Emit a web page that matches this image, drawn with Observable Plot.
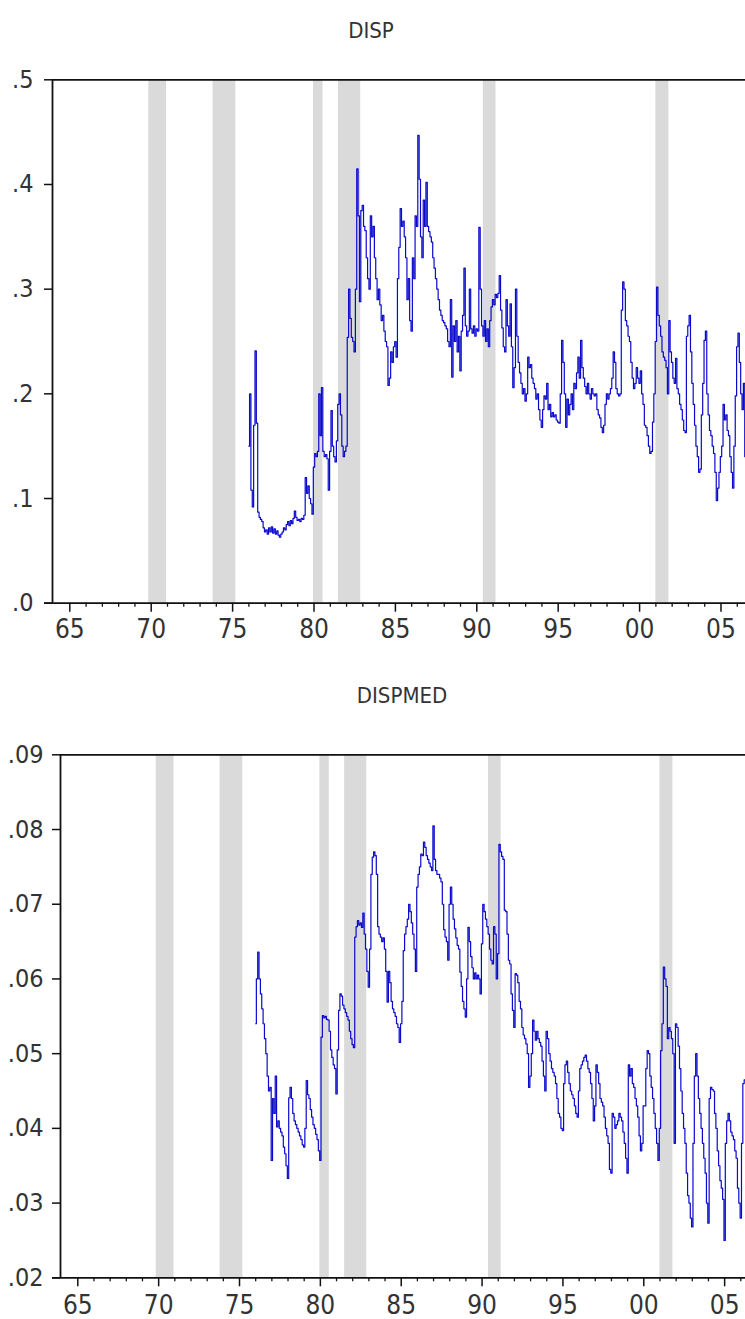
<!DOCTYPE html>
<html>
<head>
<meta charset="utf-8">
<script src="https://cdn.jsdelivr.net/npm/d3@7"></script>
<script src="https://cdn.jsdelivr.net/npm/@observablehq/plot@0.6"></script>
<style>
  body { margin: 0; background: #fff; }
  .panel { position: relative; width: 745px; overflow: hidden; }
  .panel svg { display: block; }
  .title { position: absolute; font-family: "Liberation Sans Narrow", "DejaVu Sans Condensed", "Liberation Sans", sans-serif; font-size: 22px; color: #333; transform: translate(-50%, -50%); white-space: nowrap; }
</style>
</head>
<body>
<div id="top" class="panel"></div>
<div id="bottom" class="panel"></div>
<script>
// ---------------- DATA ----------------
const startYear = 1976; // first monthly observation: 1976M1
const panelTitles = ["DISP", "DISPMED"];

// DISP, monthly from 1976M1
const dispValues = [
  .150,.200,.108,.092,.170,.241,.172,.087,.082,.080,
  .078,.072,.068,.070,.066,.072,.068,.073,.067,.071,
  .066,.069,.065,.063,.066,.068,.072,.070,.075,.078,
  .074,.079,.076,.081,.088,.082,.079,.080,.078,.081,
  .080,.084,.120,.105,.112,.100,.095,.085,.130,.143,
  .140,.145,.200,.160,.206,.145,.140,.142,.138,.108,
  .145,.184,.150,.140,.135,.155,.190,.200,.180,.150,
  .140,.145,.150,.254,.300,.272,.254,.250,.240,.300,
  .415,.370,.288,.375,.380,.360,.356,.330,.310,.300,
  .370,.350,.360,.330,.310,.290,.300,.285,.270,.275,
  .260,.250,.245,.208,.215,.240,.230,.245,.250,.235,
  .310,.340,.377,.360,.365,.350,.330,.290,.310,.270,
  .260,.330,.310,.370,.360,.447,.405,.350,.330,.385,
  .360,.402,.360,.355,.350,.345,.330,.320,.310,.300,
  .290,.280,.275,.270,.268,.265,.262,.250,.245,.290,
  .216,.265,.250,.270,.240,.255,.222,.260,.275,.320,
  .265,.255,.260,.300,.262,.258,.265,.255,.262,.260,
  .359,.300,.265,.255,.270,.250,.262,.245,.270,.283,
  .290,.285,.295,.292,.296,.313,.280,.263,.245,.240,
  .290,.265,.255,.286,.245,.206,.225,.300,.255,.230,
  .220,.210,.200,.205,.193,.200,.235,.225,.228,.215,
  .210,.205,.195,.200,.185,.175,.168,.185,.198,.195,
  .210,.185,.190,.178,.182,.178,.180,.175,.173,.172,
  .200,.251,.230,.200,.168,.195,.180,.190,.200,.185,
  .210,.205,.220,.235,.215,.251,.225,.215,.207,.200,
  .210,.200,.195,.205,.200,.198,.200,.185,.180,.177,
  .168,.163,.170,.190,.200,.195,.200,.205,.215,.240,
  .230,.205,.200,.198,.200,.280,.307,.300,.270,.265,
  .255,.250,.230,.215,.205,.210,.225,.215,.210,.222,
  .200,.190,.170,.168,.160,.150,.143,.145,.173,.200,
  .250,.302,.275,.265,.255,.240,.235,.232,.225,.200,
  .270,.240,.230,.215,.210,.234,.205,.200,.190,.185,
  .175,.165,.163,.255,.265,.275,.240,.210,.190,.170,
  .150,.140,.125,.128,.180,.210,.251,.260,.200,.180,
  .165,.160,.150,.143,.125,.098,.110,.125,.140,.150,
  .190,.175,.180,.165,.160,.140,.125,.110,.150,.198,
  .245,.258,.230,.200,.185,.210,.140
];

// DISPMED, monthly from 1976M1
const dispmedValues = [
  .0540,.0600,.0636,.0600,.0580,.0560,.0540,.0520,.0500,.0470,
  .0450,.0455,.0357,.0440,.0420,.0470,.0402,.0410,.0400,.0395,
  .0390,.0375,.0366,.0350,.0333,.0441,.0455,.0440,.0420,.0410,
  .0405,.0400,.0395,.0390,.0385,.0378,.0375,.0400,.0464,.0445,
  .0440,.0425,.0415,.0405,.0400,.0392,.0385,.0370,.0357,.0522,
  .0551,.0548,.0550,.0546,.0545,.0530,.0505,.0495,.0485,.0480,
  .0446,.0505,.0558,.0580,.0577,.0565,.0560,.0555,.0550,.0545,
  .0530,.0520,.0512,.0508,.0656,.0670,.0678,.0672,.0675,.0669,
  .0688,.0660,.0640,.0610,.0589,.0640,.0740,.0763,.0770,.0765,
  .0740,.0670,.0660,.0656,.0650,.0655,.0640,.0610,.0569,.0610,
  .0595,.0570,.0560,.0555,.0550,.0540,.0535,.0515,.0540,.0570,
  .0638,.0660,.0670,.0680,.0700,.0690,.0675,.0660,.0640,.0610,
  .0723,.0740,.0750,.0767,.0765,.0783,.0776,.0765,.0760,.0755,
  .0750,.0745,.0805,.0760,.0745,.0740,.0740,.0735,.0730,.0700,
  .0666,.0656,.0650,.0625,.0700,.0723,.0700,.0680,.0667,.0655,
  .0645,.0640,.0609,.0590,.0570,.0560,.0549,.0600,.0669,.0650,
  .0630,.0615,.0600,.0608,.0600,.0605,.0600,.0580,.0647,.0700,
  .0690,.0680,.0670,.0660,.0640,.0625,.0620,.0670,.0660,.0600,
  .0634,.0780,.0770,.0764,.0760,.0692,.0690,.0660,.0625,.0620,
  .0580,.0558,.0535,.0607,.0605,.0595,.0570,.0560,.0535,.0525,
  .0520,.0513,.0500,.0455,.0470,.0500,.0545,.0530,.0518,.0530,
  .0520,.0515,.0510,.0490,.0470,.0450,.0530,.0520,.0500,.0490,
  .0480,.0475,.0470,.0460,.0440,.0420,.0415,.0400,.0397,.0460,
  .0485,.0490,.0475,.0460,.0450,.0445,.0440,.0430,.0420,.0415,
  .0450,.0480,.0485,.0490,.0495,.0498,.0490,.0480,.0475,.0460,
  .0440,.0410,.0430,.0485,.0475,.0460,.0440,.0435,.0430,.0415,
  .0400,.0390,.0380,.0345,.0340,.0420,.0415,.0400,.0405,.0410,
  .0420,.0415,.0410,.0395,.0380,.0360,.0340,.0485,.0470,.0480,
  .0460,.0455,.0440,.0430,.0415,.0390,.0370,.0380,.0430,.0430,
  .0480,.0504,.0500,.0470,.0455,.0440,.0420,.0400,.0380,.0357,
  .0400,.0504,.0540,.0616,.0600,.0590,.0520,.0535,.0530,.0520,
  .0500,.0380,.0540,.0535,.0510,.0480,.0450,.0420,.0400,.0380,
  .0340,.0310,.0300,.0280,.0268,.0380,.0470,.0500,.0470,.0440,
  .0420,.0400,.0380,.0360,.0340,.0300,.0273,.0440,.0455,.0452,
  .0450,.0420,.0400,.0370,.0350,.0330,.0320,.0305,.0250,.0380,
  .0410,.0420,.0410,.0395,.0390,.0385,.0370,.0360,.0320,.0300,
  .0280,.0380,.0460,.0465
];

// Recession shading (start / end, in years)
const recessionStart = [1969.85, 1973.80, 1979.97, 1981.50, 1990.40, 2001.00];
const recessionEnd   = [1970.95, 1975.20, 1980.55, 1982.87, 1991.18, 2001.80];

// Tick values
const xMajorTicks = [1965, 1970, 1975, 1980, 1985, 1990, 1995, 2000, 2005];
const xMinorTicks = [1966,1967,1968,1969,1971,1972,1973,1974,1976,1977,1978,1979,1981,1982,1983,1984,
                     1986,1987,1988,1989,1991,1992,1993,1994,1996,1997,1998,1999,2001,2002,2003,2004,2006];
const dispYTicks = [0, 0.1, 0.2, 0.3, 0.4, 0.5];
const dispmedYTicks = [0.02, 0.03, 0.04, 0.05, 0.06, 0.07, 0.08, 0.09];

// ---------------- DRAW ----------------
const FONT = '"Liberation Sans Narrow", "DejaVu Sans Condensed", "Liberation Sans", sans-serif';
const bands = recessionStart.map((s, i) => ({start: s, end: recessionEnd[i]}));
const toRows = vals => vals.map((v, k) => ({date: startYear + k / 12, value: v}));
const yearLabel = d => String(d % 100).padStart(2, "0");

function panel(cfg) {
  const [y0, y1] = cfg.yDomain;
  return Plot.plot({
    width: 745,
    height: cfg.height,
    marginLeft: cfg.ml,
    marginRight: 0,
    marginTop: cfg.mt,
    marginBottom: cfg.mb,
    x: {domain: cfg.xDomain, axis: null},
    y: {domain: cfg.yDomain, axis: null},
    style: {fontFamily: FONT, color: "#333", background: "white", overflow: "visible"},
    marks: [
      Plot.rect(bands, {x1: "start", x2: "end", y1: () => y0, y2: () => y1, fill: "#dadada"}),
      Plot.line(toRows(cfg.values), {x: "date", y: "value", curve: "step", stroke: "#0a0acc", strokeWidth: 1.2}),
      Plot.axisY({ticks: cfg.yTicks, tickFormat: cfg.yFmt, tickSize: 8, tickPadding: cfg.yPad,
                  fontSize: 25, label: null, stroke: "#111", strokeWidth: 1.5}),
      Plot.axisX({ticks: xMajorTicks, tickFormat: yearLabel, tickSize: 9, tickPadding: cfg.xPad,
                  fontSize: 26, label: null, stroke: "#111", strokeWidth: 1.5}),
      Plot.axisX({ticks: xMinorTicks, tickSize: 4, text: null, label: null, stroke: "#111", strokeWidth: 1.3}),
      Plot.ruleY([y0], {stroke: "#111", strokeWidth: 1.8, insetLeft: -8}),
      Plot.ruleY([y1], {stroke: "#111", strokeWidth: 1.8}),
      Plot.ruleX([cfg.xDomain[0]], {stroke: "#111", strokeWidth: 1.8})
    ]
  });
}

function addTitle(container, text, cx, cy) {
  const t = document.createElement("div");
  t.className = "title";
  t.textContent = text;
  t.style.left = cx + "px";
  t.style.top = cy + "px";
  container.appendChild(t);
}

const topDiv = document.getElementById("top");
topDiv.appendChild(panel({
  values: dispValues,
  height: 650, ml: 52, mt: 79.3, mb: 47.3,
  xDomain: [1963.937, 2006.505],
  yDomain: [0, 0.5],
  yTicks: dispYTicks,
  yFmt: d => d.toFixed(1).replace(/^0/, ""),
  yPad: 11, xPad: 7
}));
addTitle(topDiv, panelTitles[0], 371, 30);

const botDiv = document.getElementById("bottom");
botDiv.appendChild(panel({
  values: dispmedValues,
  height: 669, ml: 60, mt: 104.3, mb: 41.7,
  xDomain: [1963.93, 2006.29],
  yDomain: [0.02, 0.09],
  yTicks: dispmedYTicks,
  yFmt: d => d.toFixed(2).replace(/^0/, ""),
  yPad: 9, xPad: 9
}));
addTitle(botDiv, panelTitles[1], 402, 45);
</script>
</body>
</html>
